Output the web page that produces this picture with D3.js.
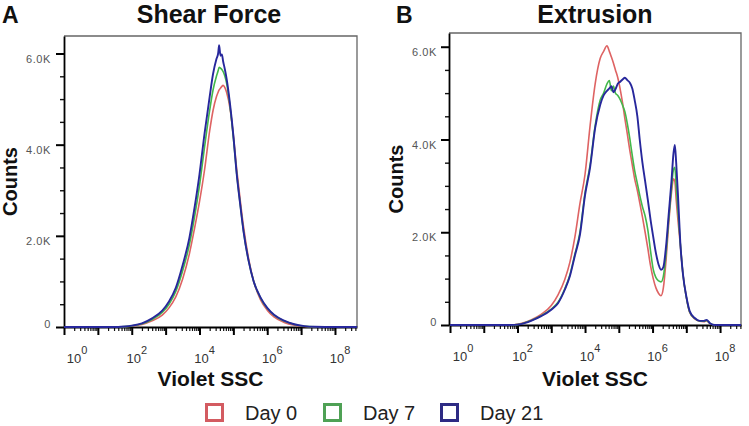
<!DOCTYPE html>
<html>
<head>
<meta charset="utf-8">
<script src="https://cdn.jsdelivr.net/npm/d3@7"></script>
<style>
  body { margin: 0; background: #fff; }
  svg { display: block; font-family: "Liberation Sans", Arial, sans-serif; }
</style>
</head>
<body>
<svg id="chart" width="749" height="426"></svg>
<script>
// Histogram data (x = log10 Violet SSC, y = counts)
const panelA_logSSC = [0, 1.0, 1.6, 1.8, 2.0, 2.3, 2.6, 2.9, 3.1, 3.3, 3.5, 3.7, 3.85, 4.0, 4.15, 4.3, 4.4, 4.5, 4.55, 4.58, 4.62, 4.66, 4.7, 4.75, 4.8, 4.9, 5.0, 5.1, 5.2, 5.3, 5.45, 5.6, 5.8, 6.0, 6.2, 6.5, 6.8, 7.1, 7.4, 8.0, 8.65];
const panelA_day0  = [0, 0, 0, 5, 18, 55, 135, 260, 420, 660, 1050, 1600, 2150, 2750, 3450, 4300, 4750, 5050, 5150, 5200, 5240, 5280, 5300, 5250, 5150, 4800, 4200, 3450, 2800, 2200, 1500, 1000, 600, 370, 220, 100, 40, 12, 3, 0, 0];
const panelA_day7  = [0, 0, 0, 8, 25, 70, 165, 320, 500, 780, 1230, 1800, 2400, 3100, 3950, 4750, 5200, 5500, 5620, 5700, 5680, 5650, 5600, 5500, 5350, 4850, 4150, 3350, 2700, 2100, 1450, 1000, 640, 410, 260, 130, 55, 18, 5, 0, 0];
const panelA_day21 = [0, 0, 0, 10, 30, 80, 190, 360, 560, 860, 1350, 1950, 2600, 3350, 4250, 5050, 5550, 5880, 6000, 6180, 5950, 5980, 5820, 5650, 5450, 4900, 4200, 3350, 2700, 2100, 1450, 1000, 650, 420, 270, 140, 60, 20, 5, 0, 0];

const panelB_logSSC = [0, 1.0, 1.6, 1.9, 2.1, 2.4, 2.7, 3.0, 3.2, 3.4, 3.55, 3.7, 3.85, 4.0, 4.15, 4.3, 4.45, 4.55, 4.65, 4.72, 4.78, 4.84, 4.9, 4.97, 5.05, 5.12, 5.18, 5.25, 5.33, 5.4, 5.47, 5.55, 5.62, 5.7, 5.78, 5.86, 5.94, 6.02, 6.1, 6.18, 6.25, 6.32, 6.4, 6.48, 6.56, 6.62, 6.66, 6.7, 6.76, 6.82, 6.9, 7.0, 7.1, 7.25, 7.4, 7.52, 7.6, 7.7, 7.85, 8.2, 8.62];
const panelB_day0  = [0, 0, 0, 5, 30, 110, 230, 420, 650, 980, 1350, 1900, 2620, 3250, 4300, 5200, 5750, 5900, 6020, 5900, 5780, 5650, 5500, 5330, 5050, 4750, 4450, 4130, 3750, 3450, 3150, 2900, 2640, 2330, 2000, 1650, 1280, 1000, 800, 680, 630, 800, 1400, 2200, 2850, 3150, 3100, 2700, 2200, 1750, 1100, 600, 270, 130, 80, 70, 90, 30, 0, 0, 0];
const panelB_day7  = [0, 0, 0, 3, 22, 95, 200, 345, 490, 780, 1080, 1530, 2000, 2850, 3450, 4300, 4850, 5000, 5200, 5270, 5050, 5150, 5000, 4950, 4850, 4720, 4600, 4350, 4000, 3650, 3330, 3050, 2800, 2550, 2350, 2050, 1600, 1200, 1020, 950, 930, 1050, 1550, 2300, 2950, 3350, 3400, 3000, 2400, 1780, 1100, 600, 280, 140, 85, 80, 100, 35, 0, 0, 0];
const panelB_day21 = [0, 0, 0, 3, 20, 90, 190, 330, 470, 760, 1050, 1500, 1950, 2800, 3400, 4250, 4750, 4950, 5050, 5100, 5150, 5020, 5080, 5200, 5250, 5300, 5330, 5280, 5220, 5100, 4850, 4500, 4000, 3500, 3100, 2700, 2270, 1900, 1550, 1300, 1190, 1250, 1700, 2400, 3100, 3700, 3880, 3500, 2700, 1800, 1100, 620, 300, 150, 90, 90, 110, 40, 0, 0, 0];

const seriesNames = ["Day 0", "Day 7", "Day 21"];
const lineColors = ["#de6363", "#43b84b", "#27279c"];
const legendColors = ["#d35b61", "#4fa155", "#2e2b84"];

const yMajorTicks = [0, 2000, 4000, 6000];
const yMajorLabels = ["0", "2.0K", "4.0K", "6.0K"];
const xLabelExponents = [0, 2, 4, 6, 8];

const svg = d3.select("#chart");

function drawPanel(p) {
  const g = svg.append("g");

  const x = d3.scaleLog().domain([Math.pow(10, p.xMinExp), Math.pow(10, p.xMaxExp)]).range([p.left, p.right]);
  const y = d3.scaleLinear().domain([0, p.yMax]).range([p.bottom, p.top]);

  // box (top and right)
  g.append("path")
    .attr("d", `M${p.left},${p.top}H${p.right}V${p.bottom}`)
    .attr("fill", "none")
    .attr("stroke", "#666")
    .attr("stroke-width", 1.3);

  // y minor ticks
  const yMinor = d3.range(500, 6001, 500).filter(v => v % 2000 !== 0);
  g.append("g")
    .attr("transform", `translate(${p.left},0)`)
    .call(d3.axisLeft(y).tickValues(yMinor).tickSize(4).tickFormat(""))
    .call(a => a.select(".domain").remove())
    .call(a => a.selectAll("line").attr("stroke", "#111").attr("stroke-width", 1.4));

  // y major ticks
  g.append("g")
    .attr("transform", `translate(${p.left},0)`)
    .call(d3.axisLeft(y).tickValues(yMajorTicks).tickSize(8).tickSizeOuter(0).tickPadding(p.yPad)
      .tickFormat((d, i) => yMajorLabels[i]))
    .call(a => a.select(".domain").attr("stroke", "#000").attr("stroke-width", 1.8))
    .call(a => a.selectAll("line").attr("stroke", "#000").attr("stroke-width", 2))
    .call(a => a.selectAll("text")
      .attr("fill", "#555")
      .attr("font-size", 11)
      .attr("letter-spacing", 0.6)
      .attr("dy", d => d === 0 ? "0.05em" : "0.78em"));

  // x minor ticks
  const xMinor = [];
  for (let k = 0; k <= 8; k++) {
    for (let m = 2; m <= 9; m++) {
      const v = m * Math.pow(10, k);
      if (v <= x.domain()[1]) xMinor.push(v);
    }
  }
  g.append("g")
    .attr("transform", `translate(0,${p.bottom})`)
    .call(d3.axisBottom(x).tickValues(xMinor).tickSize(4).tickFormat(""))
    .call(a => a.select(".domain").remove())
    .call(a => a.selectAll("line").attr("stroke", "#111").attr("stroke-width", 1.2));

  // x major (decade) ticks
  const xMajor = d3.range(0, 9).map(k => Math.pow(10, k));
  g.append("g")
    .attr("transform", `translate(0,${p.bottom})`)
    .call(d3.axisBottom(x).tickValues(xMajor).tickSize(8).tickSizeOuter(0).tickFormat(""))
    .call(a => a.select(".domain").attr("stroke", "#000").attr("stroke-width", 2))
    .call(a => a.selectAll("line").attr("stroke", "#000").attr("stroke-width", 2));

  // x labels 10^n
  const lab = g.append("g").attr("fill", "#333");
  xLabelExponents.forEach(e => {
    const t = lab.append("text")
      .attr("x", x(Math.pow(10, e)) + (e === 0 ? 13 : 5))
      .attr("y", p.bottom + 36)
      .attr("text-anchor", "middle")
      .attr("font-size", 13)
      .text("10");
    t.append("tspan").attr("dy", -9).attr("font-size", 11).text(e);
  });

  // curves
  const line = d3.line()
    .x(d => x(Math.pow(10, d[0])))
    .y(d => y(d[1]))
    .curve(d3.curveMonotoneX);
  p.series.forEach((vals, i) => {
    g.append("path")
      .datum(p.logSSC.map((lx, j) => [lx, vals[j]]))
      .attr("fill", "none")
      .attr("stroke", lineColors[i])
      .attr("stroke-width", i === 2 ? 1.9 : 1.6)
      .attr("stroke-linejoin", "round")
      .attr("d", line);
  });

  // titles and axis titles
  g.append("text")
    .attr("x", p.letterX).attr("y", 23)
    .attr("font-size", 23).attr("font-weight", "bold").attr("fill", "#111")
    .text(p.letter);
  g.append("text")
    .attr("x", p.titleX).attr("y", 23)
    .attr("text-anchor", "middle")
    .attr("font-size", 25).attr("font-weight", "bold").attr("fill", "#111")
    .text(p.title);
  g.append("text")
    .attr("transform", `translate(${p.countsX},${(p.top + p.bottom) / 2}) rotate(-90)`)
    .attr("text-anchor", "middle")
    .attr("font-size", 20).attr("font-weight", "bold").attr("fill", "#111")
    .text("Counts");
  g.append("text")
    .attr("x", (p.left + p.right) / 2 + 0).attr("y", 386)
    .attr("text-anchor", "middle")
    .attr("font-size", 21).attr("font-weight", "bold").attr("fill", "#111")
    .text("Violet SSC");
}

drawPanel({
  left: 64, right: 357, top: 36, bottom: 327,
  xMinExp: 0, xMaxExp: 8.65, yMax: 6384, yPad: 5,
  letter: "A", letterX: 2, title: "Shear Force", titleX: 209, countsX: 17,
  logSSC: panelA_logSSC, series: [panelA_day0, panelA_day7, panelA_day21]
});

drawPanel({
  left: 449, right: 741, top: 33, bottom: 325,
  xMinExp: -0.03, xMaxExp: 8.62, yMax: 6296, yPad: 4,
  letter: "B", letterX: 396, title: "Extrusion", titleX: 595, countsX: 403,
  logSSC: panelB_logSSC, series: [panelB_day0, panelB_day7, panelB_day21]
});

// legend
const legendX = [205, 323, 440];
const legend = svg.append("g");
seriesNames.forEach((name, i) => {
  legend.append("rect")
    .attr("x", legendX[i] + 1.5).attr("y", 404.5)
    .attr("width", 16).attr("height", 16)
    .attr("fill", "#fff")
    .attr("stroke", legendColors[i])
    .attr("stroke-width", 3);
  legend.append("text")
    .attr("x", legendX[i] + 40).attr("y", 419.5)
    .attr("font-size", 20).attr("fill", "#222")
    .text(name);
});
</script>
</body>
</html>
